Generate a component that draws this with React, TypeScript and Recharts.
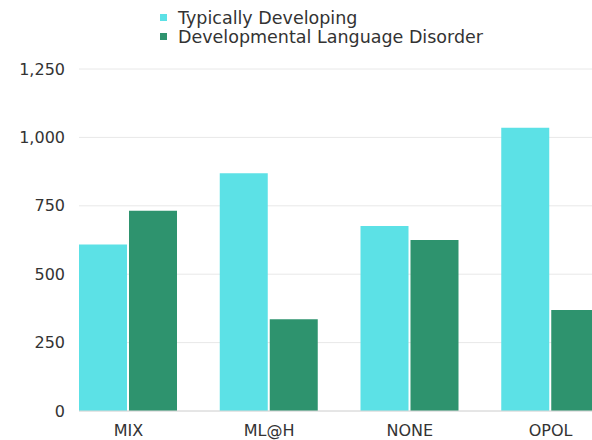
import React from 'react';
import { BarChart, Bar, XAxis, YAxis, CartesianGrid, Legend } from 'recharts';

const categories = ['MIX', 'ML@H', 'NONE', 'OPOL'];
const typicallyDeveloping = [609, 869, 676, 1035];
const languageDisorder = [732, 335, 625, 369];
const yTicks = [0, 250, 500, 750, 1000, 1250];

const seriesNames = ['Typically Developing', 'Developmental Language Disorder'];
const seriesColors = ['#5ce1e6', '#2e936e'];

const data = categories.map((name, i) => ({
  name,
  td: typicallyDeveloping[i],
  dld: languageDisorder[i],
}));

const FONT = '"DejaVu Sans", sans-serif';

const LegendBox = () => (
  <div style={{ fontFamily: FONT, fontSize: 17.5, color: '#333' }}>
    {seriesNames.map((label, i) => (
      <div key={label} style={{ display: 'flex', alignItems: 'center', height: 19 }}>
        <span
          style={{
            display: 'inline-block',
            width: 7,
            height: 7,
            background: seriesColors[i],
            marginRight: 11,
          }}
        />
        <span>{label}</span>
      </div>
    ))}
  </div>
);

export default function App() {
  return (
    <div style={{ position: 'absolute', left: 0, top: 0, width: 592, height: 440, overflow: 'hidden', background: '#fff' }}>
      <BarChart
        width={600}
        height={460}
        data={data}
        margin={{ top: 69, right: 0, bottom: 0, left: 0 }}
        barCategoryGap={21}
        barGap={2}
      >
        <CartesianGrid vertical={false} stroke="#e8e8e8" />
        <XAxis
          dataKey="name"
          padding={{ left: -21, right: -21 }}
          axisLine={{ stroke: '#d8d8d8' }}
          tickLine={false}
          tickSize={0}
          tickMargin={14}
          height={49}
          tick={{ fill: '#333', fontSize: 16, fontFamily: FONT }}
        />
        <YAxis
          width={79}
          domain={[0, 1250]}
          ticks={yTicks}
          axisLine={false}
          tickLine={false}
          tickSize={0}
          tickMargin={14}
          tickFormatter={(v: number) => v.toLocaleString('en-US')}
          tick={{ fill: '#333', fontSize: 16, fontFamily: FONT }}
        />
        <Legend
          layout="vertical"
          align="center"
          verticalAlign="middle"
          content={() => <LegendBox />}
          wrapperStyle={{ top: 8, left: 160, width: 'auto' }}
        />
        <Bar dataKey="td" name={seriesNames[0]} fill={seriesColors[0]} isAnimationActive={false} />
        <Bar dataKey="dld" name={seriesNames[1]} fill={seriesColors[1]} isAnimationActive={false} />
      </BarChart>
    </div>
  );
}
